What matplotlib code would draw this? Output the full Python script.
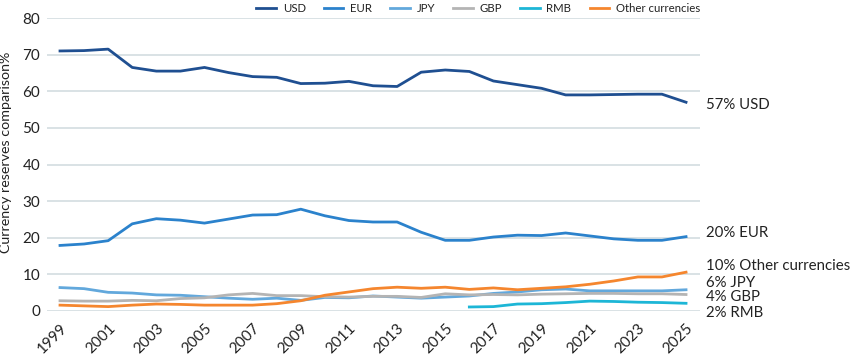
import matplotlib
matplotlib.use("Agg")
import matplotlib.pyplot as plt

plt.rcParams['font.family'] = ['Lato', 'DejaVu Sans']

years = list(range(1999, 2026))
usd = [71.0, 71.1, 71.5, 66.5, 65.5, 65.5, 66.5, 65.1, 64.0, 63.8, 62.1, 62.2, 62.7, 61.5, 61.3,
       65.2, 65.8, 65.4, 62.8, 61.8, 60.8, 59.0, 59.0, 59.1, 59.2, 59.2, 57.0]
eur = [17.9, 18.3, 19.2, 23.8, 25.2, 24.8, 24.0, 25.1, 26.2, 26.3, 27.8, 26.0, 24.7, 24.3, 24.3,
       21.5, 19.3, 19.3, 20.2, 20.7, 20.6, 21.3, 20.5, 19.7, 19.3, 19.3, 20.3]
jpy = [6.4, 6.1, 5.1, 4.9, 4.4, 4.3, 3.9, 3.5, 3.2, 3.5, 2.9, 3.7, 3.6, 4.1, 3.8,
       3.5, 3.8, 4.1, 4.8, 5.2, 5.8, 6.0, 5.5, 5.5, 5.5, 5.5, 5.8]
gbp = [2.8, 2.7, 2.7, 2.9, 2.8, 3.4, 3.6, 4.4, 4.8, 4.2, 4.2, 3.9, 3.8, 4.0, 4.0,
       3.7, 4.7, 4.4, 4.5, 4.4, 4.6, 4.7, 4.8, 4.8, 4.7, 4.7, 4.5]
rmb_years = list(range(2016, 2026))
rmb = [1.1, 1.2, 1.9, 2.0, 2.3, 2.7, 2.6, 2.4, 2.3, 2.1]
other = [1.6, 1.4, 1.2, 1.6, 1.9, 1.8, 1.6, 1.6, 1.6, 2.0, 2.8, 4.3, 5.2, 6.1, 6.5,
         6.2, 6.5, 5.9, 6.3, 5.8, 6.2, 6.6, 7.3, 8.2, 9.3, 9.3, 10.6]

end_labels = ["57% USD", "20% EUR", "10% Other currencies", "6% JPY", "4% GBP", "2% RMB"]
end_label_y = [56.2, 21.3, 12.3, 7.6, 3.8, -0.5]

colors = {
    "USD": "#1f4f91",
    "EUR": "#2b82cc",
    "JPY": "#62a8dc",
    "GBP": "#b4b4b4",
    "RMB": "#1db6d6",
    "Other currencies": "#f5862e",
}

fig = plt.figure(figsize=(8.5, 3.61), dpi=100)
ax = fig.add_axes([47/850, 1-311/361, 653/850, 293/361])

ax.set_xlim(1998.46, 2025.58)
ax.set_ylim(0, 80)
ax.set_yticks(range(0, 81, 10))
ax.grid(axis='y', color='#d3dde0', lw=1.2)
ax.set_axisbelow(True)
for s in ax.spines.values():
    s.set_visible(False)

lw = 2
series = [("USD", years, usd), ("EUR", years, eur), ("JPY", years, jpy),
          ("GBP", years, gbp), ("RMB", rmb_years, rmb), ("Other currencies", years, other)]
for name, xs, ys in series:
    ax.plot(xs, ys, color=colors[name], lw=lw, label=name, clip_on=False, solid_joinstyle='round')

ax.set_xticks(years[::2])
ax.set_xticklabels([str(y) for y in years[::2]], rotation=45, ha='right',
                   rotation_mode='anchor', fontsize=11, color='#222222')
ax.tick_params(axis='both', length=0, colors='#222222')
ax.tick_params(axis='y', labelsize=11, pad=5)
ax.tick_params(axis='x', pad=7)

ax.set_ylabel("Currency reserves comparison%", fontsize=10.3, color='#222222')
ax.yaxis.set_label_coords(-0.054, 0.543)

for lab, yv in zip(end_labels, end_label_y):
    ax.text(1.009, yv, lab, transform=ax.get_yaxis_transform(), fontsize=10.8,
            va='center', ha='left', color='#222222')

leg = ax.legend(loc='lower right', bbox_to_anchor=(1.0, 1.012), ncol=6, frameon=False,
                fontsize=8.2, handlelength=1.7, columnspacing=1.6, handletextpad=0.6,
                borderaxespad=0, borderpad=0)
for t in leg.get_texts():
    t.set_color('#222222')

fig.savefig("out.png", dpi=100)
